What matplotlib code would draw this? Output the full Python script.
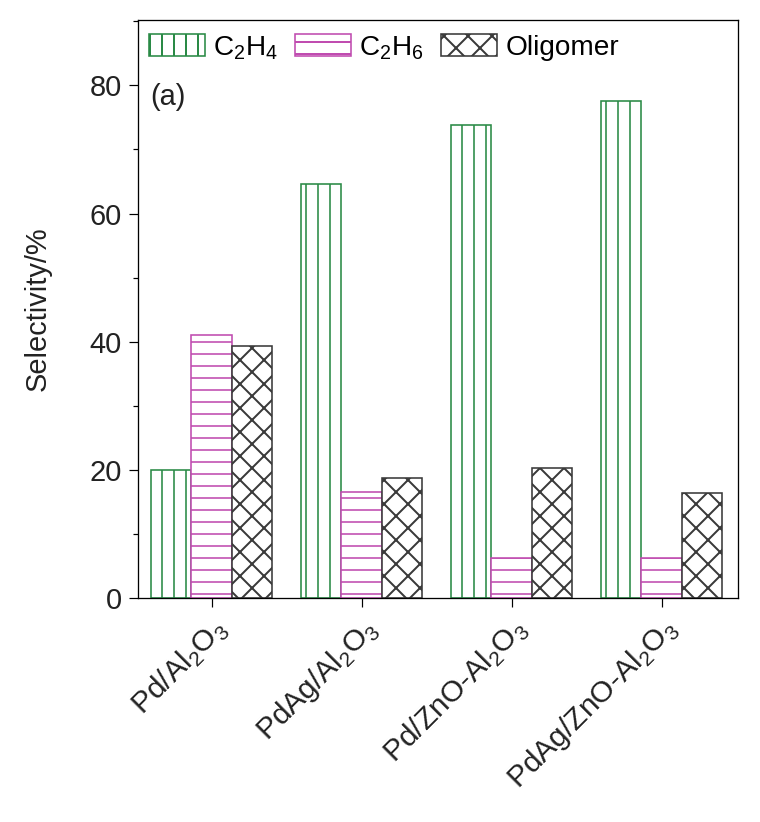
import matplotlib
matplotlib.use('Agg')
import matplotlib.pyplot as plt
import numpy as np
from matplotlib.ticker import MultipleLocator

# data
catalysts = ['Pd/Al$_\\mathregular{2}$O$_\\mathregular{3}$',
             'PdAg/Al$_\\mathregular{2}$O$_\\mathregular{3}$',
             'Pd/ZnO-Al$_\\mathregular{2}$O$_\\mathregular{3}$',
             'PdAg/ZnO-Al$_\\mathregular{2}$O$_\\mathregular{3}$']
c2h4 = [20.0, 64.6, 73.8, 77.6]
c2h6 = [41.0, 16.6, 6.2, 6.2]
oligomer = [39.3, 18.7, 20.3, 16.4]

series_names = ['C$_\\mathregular{2}$H$_\\mathregular{4}$',
                'C$_\\mathregular{2}$H$_\\mathregular{6}$',
                'Oligomer']
colors = ['#2a8a46', '#c04cb0', '#3a3a3a']
hatches = ['|', '-', 'x']
hatch_lw = [1.6, 1.6, 2.0]

plt.rcParams['font.family'] = ['Liberation Sans', 'DejaVu Sans']
plt.rcParams['mathtext.fontset'] = 'custom'
plt.rcParams['mathtext.rm'] = 'Liberation Sans'

dpi = 72
fig = plt.figure(figsize=(760 / dpi, 822 / dpi), dpi=dpi)
ax = fig.add_axes([138 / 760, 1 - 598 / 822, 600 / 760, 578 / 822])

x = np.arange(len(catalysts))
w = 0.27
for i, vals in enumerate([c2h4, c2h6, oligomer]):
    plt.rcParams['hatch.linewidth'] = hatch_lw[i]
    ax.bar(x + (i - 1) * w, vals, w, facecolor='white', edgecolor=colors[i],
           hatch=hatches[i], linewidth=1.6, label=series_names[i])

ax.set_xlim(-0.49, 3.51)
ax.set_ylim(0, 90.2)
ax.yaxis.set_major_locator(MultipleLocator(20))
ax.yaxis.set_minor_locator(MultipleLocator(10))
ax.set_xticks(x)
ax.set_xticklabels(catalysts, rotation=45, ha='right', rotation_mode='anchor',
                   fontsize=30, color='#222222')
ax.tick_params(axis='y', which='major', labelsize=29, length=9, width=1.2,
               labelcolor='#222222', pad=7)
ax.tick_params(axis='y', which='minor', length=5, width=1.2)
ax.tick_params(axis='x', length=9, width=1.2, pad=6)
for s in ax.spines.values():
    s.set_linewidth(1.3)
ax.set_ylabel('Selectivity/%', fontsize=29, color='#222222', labelpad=38)

ax.text(0.02, 0.853, '(a)', transform=ax.transAxes, fontsize=29,
        color='#222222', va='baseline')
ax.legend(loc='upper left', ncol=3, frameon=False, fontsize=28,
          bbox_to_anchor=(-0.01, 1.005), handlelength=2.0, handleheight=0.8,
          columnspacing=0.6, handletextpad=0.3, borderaxespad=0.2)

fig.savefig('out.png', dpi=dpi)
